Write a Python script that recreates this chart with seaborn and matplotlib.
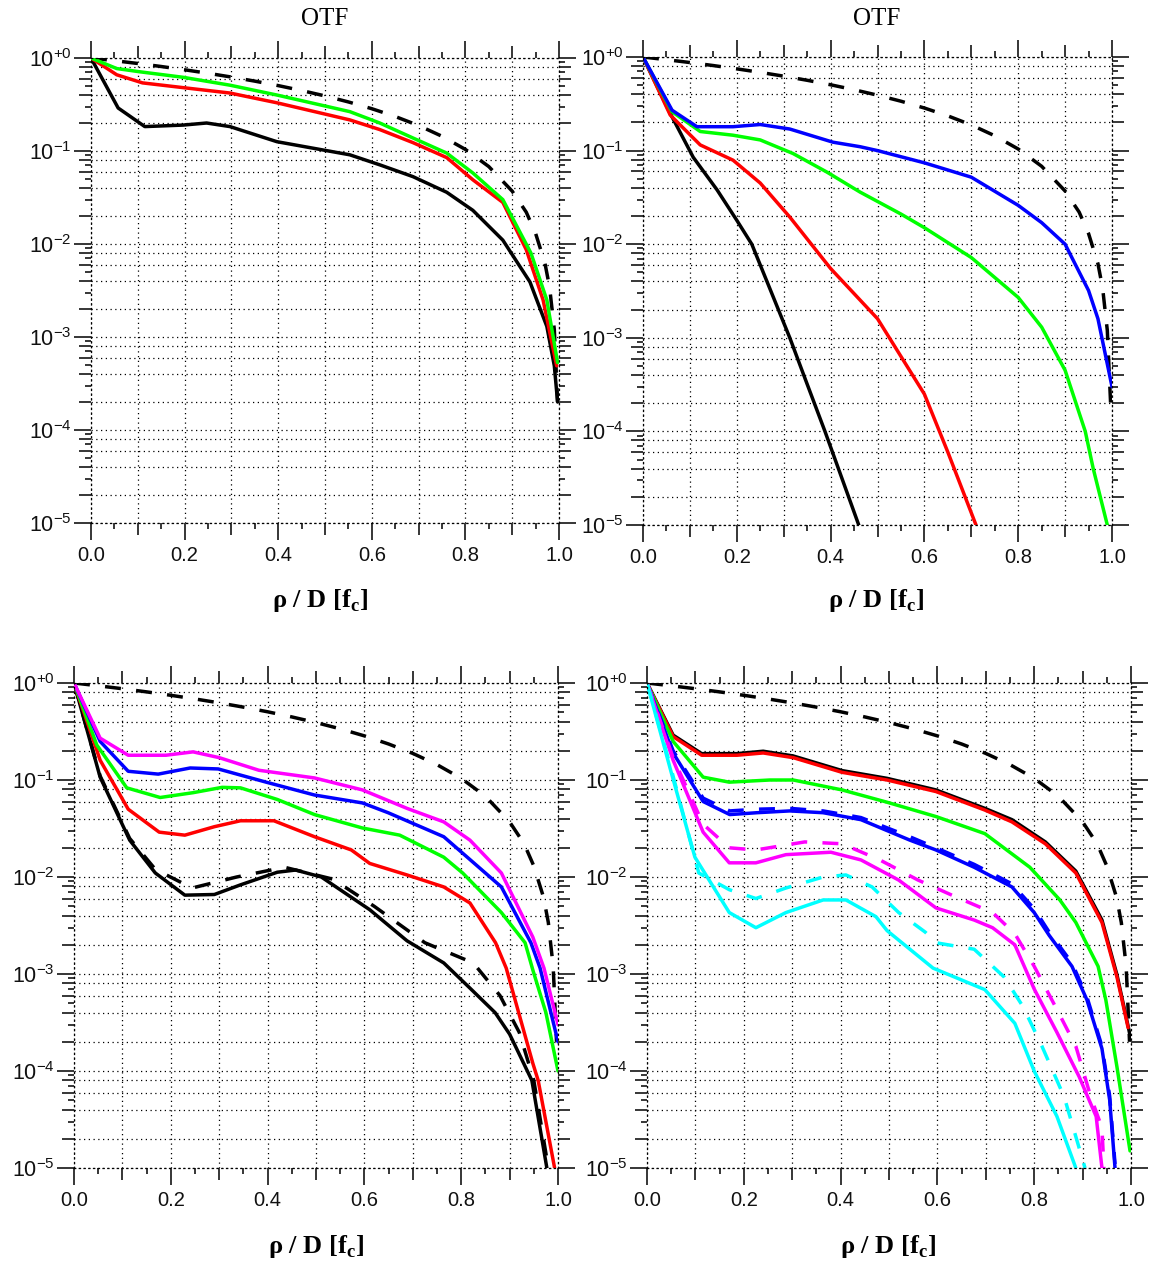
import numpy as np
import matplotlib
matplotlib.use("Agg")
import matplotlib.pyplot as plt
import seaborn as sns
from matplotlib.ticker import FixedLocator, NullFormatter, NullLocator

sns.set_theme(style="white")
plt.rcParams["font.family"] = ["Liberation Sans", "DejaVu Sans"]

# ---------------------------------------------------------------- data
# diffraction-limited OTF (dashed black, every panel)
otf_x = [0.0, 0.05, 0.1, 0.15, 0.2, 0.25, 0.3, 0.35, 0.4, 0.45, 0.5, 0.55, 0.6,
         0.65, 0.7, 0.75, 0.8, 0.85, 0.9, 0.93, 0.95, 0.97, 0.98, 0.99, 0.997]
otf_y = [1.0, 0.936, 0.873, 0.810, 0.747, 0.685, 0.624, 0.564, 0.505, 0.447, 0.391,
         0.337, 0.285, 0.235, 0.188, 0.144, 0.104, 0.068, 0.037, 0.022, 0.013,
         0.0062, 0.0034, 0.0012, 0.0002]

# top-left panel
tl_black_x = [0, 0.058, 0.115, 0.197, 0.247, 0.297, 0.397, 0.553, 0.617, 0.688,
              0.76, 0.816, 0.88, 0.938, 0.974, 0.99, 0.997]
tl_black_y = [1, 0.29, 0.183, 0.19, 0.20, 0.183, 0.126, 0.091, 0.071, 0.053,
              0.036, 0.023, 0.011, 0.0039, 0.0013, 0.00049, 0.0002]
tl_red_x = [0, 0.055, 0.11, 0.197, 0.297, 0.397, 0.553, 0.617, 0.688, 0.76, 0.816,
            0.88, 0.93, 0.966, 0.995]
tl_red_y = [1, 0.66, 0.54, 0.48, 0.42, 0.33, 0.216, 0.17, 0.123, 0.085, 0.049,
            0.028, 0.0087, 0.0025, 0.00049]
tl_green_x = [0, 0.055, 0.105, 0.197, 0.297, 0.397, 0.553, 0.617, 0.688, 0.76,
              0.816, 0.88, 0.94, 0.974, 0.997]
tl_green_y = [1, 0.77, 0.71, 0.62, 0.51, 0.40, 0.265, 0.20, 0.138, 0.095, 0.058,
              0.030, 0.008, 0.0025, 0.00053]

# top-right panel
tr_black_x = [0, 0.058, 0.107, 0.158, 0.2, 0.232, 0.27, 0.313, 0.35, 0.388, 0.42, 0.46]
tr_black_y = [1, 0.25, 0.085, 0.038, 0.018, 0.01, 0.0034, 0.001, 0.00032, 1e-4,
              3.6e-5, 1e-5]
tr_red_x = [0, 0.058, 0.122, 0.192, 0.25, 0.313, 0.4, 0.5, 0.6, 0.65, 0.71]
tr_red_y = [1, 0.24, 0.115, 0.079, 0.045, 0.0195, 0.0055, 0.0016, 2.5e-4, 6e-5, 1e-5]
tr_green_x = [0, 0.062, 0.122, 0.192, 0.25, 0.32, 0.392, 0.463, 0.55, 0.6, 0.7,
              0.8, 0.85, 0.9, 0.943, 0.96, 0.99]
tr_green_y = [1, 0.26, 0.16, 0.146, 0.13, 0.093, 0.059, 0.036, 0.021, 0.015, 0.0072,
              0.0027, 0.0013, 4.5e-4, 1e-4, 4e-5, 1e-5]
tr_blue_x = [0, 0.062, 0.115, 0.192, 0.25, 0.313, 0.405, 0.463, 0.5, 0.6, 0.7, 0.8,
             0.85, 0.9, 0.95, 0.97, 1.0]
tr_blue_y = [1, 0.27, 0.18, 0.18, 0.19, 0.17, 0.123, 0.11, 0.10, 0.074, 0.052,
             0.026, 0.017, 0.01, 0.0032, 0.0016, 3e-4]

# bottom-left panel
bl_black_x = [0, 0.054, 0.115, 0.168, 0.229, 0.29, 0.344, 0.42, 0.458, 0.511, 0.611,
              0.688, 0.764, 0.82, 0.87, 0.9, 0.946, 0.977]
bl_black_y = [1, 0.107, 0.024, 0.011, 0.0065, 0.0066, 0.0083, 0.0112, 0.0118, 0.010,
              0.0046, 0.0022, 0.0013, 7e-4, 4e-4, 2.4e-4, 8e-5, 1e-5]
bl_blackd_x = [0, 0.054, 0.115, 0.168, 0.244, 0.336, 0.435, 0.535, 0.62, 0.725,
               0.825, 0.88, 0.92, 0.95, 0.98]
bl_blackd_y = [1, 0.11, 0.025, 0.012, 0.0077, 0.010, 0.0126, 0.0095, 0.0050, 0.0021,
               0.0013, 6e-4, 2.5e-4, 8e-5, 1e-5]
bl_red_x = [0, 0.054, 0.112, 0.176, 0.229, 0.29, 0.344, 0.413, 0.497, 0.573, 0.611,
            0.688, 0.764, 0.818, 0.871, 0.893, 0.948, 0.959, 0.993]
bl_red_y = [1, 0.16, 0.05, 0.029, 0.027, 0.033, 0.038, 0.038, 0.026, 0.019, 0.0138,
            0.0105, 0.0079, 0.0054, 0.0021, 0.00115, 1.2e-4, 8e-5, 1e-5]
bl_green_x = [0, 0.047, 0.109, 0.178, 0.246, 0.306, 0.344, 0.42, 0.497, 0.596, 0.673,
              0.764, 0.803, 0.883, 0.932, 0.948, 0.975, 1.0]
bl_green_y = [1, 0.23, 0.083, 0.066, 0.074, 0.084, 0.083, 0.063, 0.044, 0.032, 0.027,
              0.016, 0.011, 0.0043, 0.0021, 0.0011, 4e-4, 1e-4]
bl_blue_x = [0, 0.054, 0.112, 0.174, 0.24, 0.298, 0.397, 0.497, 0.596, 0.649, 0.764,
             0.883, 0.944, 0.963, 1.0]
bl_blue_y = [1, 0.25, 0.123, 0.115, 0.133, 0.13, 0.095, 0.07, 0.058, 0.046, 0.026,
             0.0079, 0.0021, 0.00115, 2e-4]
bl_magenta_x = [0, 0.054, 0.112, 0.19, 0.246, 0.30, 0.382, 0.497, 0.596, 0.688, 0.764,
                0.818, 0.883, 0.948, 0.971, 1.0]
bl_magenta_y = [1, 0.27, 0.18, 0.18, 0.195, 0.17, 0.126, 0.105, 0.079, 0.051, 0.037,
                0.024, 0.011, 0.0024, 0.00115, 3e-4]

# bottom-right panel
br_red_x = [0, 0.054, 0.113, 0.186, 0.24, 0.302, 0.403, 0.496, 0.597, 0.698, 0.754,
            0.823, 0.886, 0.94, 0.971, 0.994]
br_red_y = [1, 0.28, 0.18, 0.18, 0.19, 0.17, 0.12, 0.10, 0.076, 0.049, 0.037, 0.022,
            0.011, 0.0034, 9.3e-4, 2.8e-4]
br_black_x = [0, 0.054, 0.113, 0.186, 0.24, 0.302, 0.403, 0.496, 0.597, 0.698, 0.754,
              0.823, 0.886, 0.94, 0.971, 0.994, 1.0]
br_black_y = [1, 0.29, 0.187, 0.187, 0.198, 0.177, 0.125, 0.104, 0.079, 0.051, 0.039,
              0.023, 0.0115, 0.0036, 9.8e-4, 2.9e-4, 2.1e-4]
br_green_x = [0, 0.054, 0.116, 0.17, 0.254, 0.302, 0.403, 0.496, 0.597, 0.698, 0.791,
              0.853, 0.886, 0.932, 0.948, 0.971, 0.998]
br_green_y = [1, 0.25, 0.107, 0.095, 0.10, 0.10, 0.079, 0.059, 0.042, 0.028, 0.0126,
              0.0058, 0.0034, 0.0012, 5.4e-4, 1.1e-4, 1.5e-5]
br_blue_x = [0, 0.054, 0.116, 0.171, 0.227, 0.295, 0.364, 0.442, 0.543, 0.597, 0.676,
             0.754, 0.80, 0.831, 0.878, 0.909, 0.94, 0.956, 0.967]
br_blue_y = [1, 0.19, 0.06, 0.044, 0.046, 0.048, 0.046, 0.039, 0.024, 0.019, 0.0126,
             0.0079, 0.0043, 0.0025, 0.0012, 5.4e-4, 1.7e-4, 5e-5, 1e-5]
br_blued_y = [1, 0.20, 0.065, 0.048, 0.050, 0.051, 0.048, 0.041, 0.026, 0.020, 0.0135,
              0.0085, 0.0047, 0.0027, 0.0013, 5.8e-4, 1.8e-4, 5.5e-5, 1.1e-5]
br_magenta_x = [0, 0.054, 0.116, 0.17, 0.225, 0.287, 0.38, 0.442, 0.52, 0.597, 0.676,
                0.714, 0.76, 0.80, 0.847, 0.893, 0.928, 0.94]
br_magenta_y = [1, 0.16, 0.029, 0.014, 0.014, 0.017, 0.018, 0.015, 0.0093, 0.0048,
                0.0036, 0.003, 0.002, 7e-4, 2.5e-4, 8.7e-5, 3.4e-5, 1e-5]
br_magentad_x = [0, 0.054, 0.116, 0.17, 0.225, 0.326, 0.403, 0.481, 0.56, 0.636, 0.714,
                 0.76, 0.80, 0.847, 0.886, 0.917, 0.94, 0.944]
br_magentad_y = [1, 0.17, 0.035, 0.020, 0.019, 0.023, 0.022, 0.015, 0.0093, 0.0063,
                 0.0043, 0.0026, 0.0012, 4.3e-4, 1.8e-4, 5.4e-5, 2.6e-5, 1e-5]
br_cyan_x = [0, 0.05, 0.099, 0.17, 0.225, 0.287, 0.364, 0.411, 0.473, 0.496, 0.591,
             0.698, 0.76, 0.80, 0.847, 0.886]
br_cyan_y = [1, 0.12, 0.016, 0.0043, 0.003, 0.0043, 0.0058, 0.0058, 0.0039, 0.0028,
             0.00115, 6.9e-4, 3.1e-4, 1e-4, 3.4e-5, 1e-5]
br_cyand_x = [0, 0.05, 0.107, 0.17, 0.225, 0.287, 0.364, 0.411, 0.465, 0.52, 0.575,
              0.597, 0.676, 0.738, 0.777, 0.816, 0.862, 0.905]
br_cyand_y = [1, 0.13, 0.011, 0.0074, 0.006, 0.0077, 0.010, 0.0105, 0.0079, 0.0043,
              0.0027, 0.0021, 0.0018, 9.3e-4, 4.6e-4, 1.8e-4, 5.4e-5, 1e-5]

x_ticks = [0.0, 0.2, 0.4, 0.6, 0.8, 1.0]
x_tick_labels = ["0.0", "0.2", "0.4", "0.6", "0.8", "1.0"]
y_ticks = [1e-5, 1e-4, 1e-3, 1e-2, 1e-1, 1e0]
y_tick_labels = [r"$\mathregular{10^{-5}}$", r"$\mathregular{10^{-4}}$",
                 r"$\mathregular{10^{-3}}$", r"$\mathregular{10^{-2}}$",
                 r"$\mathregular{10^{-1}}$", r"$\mathregular{10^{+0}}$"]
title_text = "OTF"
xlabel_text = r"ρ / D [f$_{\mathregular{c}}$]"

# ---------------------------------------------------------------- figure
W, H = 1149, 1264
fig = plt.figure(figsize=(W / 100, H / 100), dpi=100)
fig.patch.set_facecolor("white")

DOT = (0, (1.0, 2.8))
DASH = (0, (4.6, 4.4))
TICK_W = 1.1


def panel(left, right, top, bottom):
    ax = fig.add_axes([left / W, 1 - bottom / H, (right - left) / W, (bottom - top) / H])
    ax.set_yscale("log")
    ax.set_xlim(0, 1)
    ax.set_ylim(1e-5, 1)
    ax.set_facecolor("white")

    ax.set_xticks(x_ticks, labels=x_tick_labels)
    ax.xaxis.set_minor_locator(FixedLocator([0.1, 0.3, 0.5, 0.7, 0.9]))
    ax.set_yticks(y_ticks, labels=y_tick_labels)
    ax.yaxis.set_minor_locator(FixedLocator(
        [m * 10.0 ** e for e in range(-5, 0) for m in (2, 4, 6, 8)]))
    ax.yaxis.set_minor_formatter(NullFormatter())

    ax.tick_params(which="both", direction="out", color="black", width=TICK_W,
                   top=True, right=True, bottom=True, left=True)
    ax.tick_params(which="major", length=12.5)
    ax.tick_params(which="minor", length=8.5)
    ax.tick_params(axis="x", labelsize=14.5, pad=4, labelcolor="#111111")
    ax.tick_params(axis="y", labelsize=15.5, pad=1.5, labelcolor="#111111")

    ax.grid(which="both", color="black", linestyle=DOT, linewidth=0.9)
    for sp in ax.spines.values():
        sp.set_visible(True)
        sp.set_color("black")
        sp.set_linestyle(DOT)
        sp.set_linewidth(0.9)

    # short intermediate ticks on all four sides
    for side in ("bottom", "top"):
        sec = ax.secondary_xaxis(side)
        sec.set_xticks([0.05, 0.15, 0.25, 0.35, 0.45, 0.55, 0.65, 0.75, 0.85, 0.95])
        sec.xaxis.set_major_formatter(NullFormatter())
        sec.xaxis.set_minor_locator(NullLocator())
        sec.tick_params(direction="out", length=4.5, width=TICK_W, color="black")
        for sp in sec.spines.values():
            sp.set_visible(False)
    for side in ("left", "right"):
        sec = ax.secondary_yaxis(side)
        sec.set_yticks([m * 10.0 ** e for e in range(-5, 0) for m in (3, 5, 7, 9)])
        sec.yaxis.set_major_formatter(NullFormatter())
        sec.yaxis.set_minor_locator(NullLocator())
        sec.tick_params(direction="out", length=4.5, width=TICK_W, color="black")
        for sp in sec.spines.values():
            sp.set_visible(False)
    return ax


def curve(ax, x, y, color, dashed=False, lw=2.5):
    kw = dict(x=np.asarray(x, float), y=np.asarray(y, float), ax=ax, color=color,
              linewidth=lw, sort=False, estimator=None)
    if dashed:
        kw["linestyle"] = DASH
    sns.lineplot(**kw)


BLACK, RED, GREEN, BLUE = "#000000", "#ff0000", "#00ff00", "#0000ff"
MAGENTA, CYAN = "#ff00ff", "#00ffff"

ax_tl = panel(91, 559, 58, 523)
ax_tr = panel(643, 1112, 57, 525)
ax_bl = panel(74, 558, 683, 1168)
ax_br = panel(647, 1131, 683, 1168)

# top-left
curve(ax_tl, otf_x, otf_y, BLACK, dashed=True)
curve(ax_tl, tl_black_x, tl_black_y, BLACK)
curve(ax_tl, tl_red_x, tl_red_y, RED)
curve(ax_tl, tl_green_x, tl_green_y, GREEN)

# top-right
curve(ax_tr, otf_x, otf_y, BLACK, dashed=True)
curve(ax_tr, tr_black_x, tr_black_y, BLACK)
curve(ax_tr, tr_red_x, tr_red_y, RED)
curve(ax_tr, tr_green_x, tr_green_y, GREEN)
curve(ax_tr, tr_blue_x, tr_blue_y, BLUE)

# bottom-left
curve(ax_bl, otf_x, otf_y, BLACK, dashed=True)
curve(ax_bl, bl_black_x, bl_black_y, BLACK)
curve(ax_bl, bl_blackd_x, bl_blackd_y, BLACK, dashed=True)
curve(ax_bl, bl_red_x, bl_red_y, RED)
curve(ax_bl, bl_green_x, bl_green_y, GREEN)
curve(ax_bl, bl_blue_x, bl_blue_y, BLUE)
curve(ax_bl, bl_magenta_x, bl_magenta_y, MAGENTA)

# bottom-right
curve(ax_br, otf_x, otf_y, BLACK, dashed=True)
curve(ax_br, br_black_x, br_black_y, BLACK)
curve(ax_br, br_red_x, br_red_y, RED)
curve(ax_br, br_green_x, br_green_y, GREEN)
curve(ax_br, br_blue_x, br_blue_y, BLUE)
curve(ax_br, br_blue_x, br_blued_y, BLUE, dashed=True)
curve(ax_br, br_magenta_x, br_magenta_y, MAGENTA)
curve(ax_br, br_magentad_x, br_magentad_y, MAGENTA, dashed=True)
curve(ax_br, br_cyan_x, br_cyan_y, CYAN)
curve(ax_br, br_cyand_x, br_cyand_y, CYAN, dashed=True)

for ax in (ax_tl, ax_tr, ax_bl, ax_br):
    leg = ax.get_legend()
    if leg is not None:
        leg.remove()
    ax.set_xlabel("")
    ax.set_ylabel("")

serif = ["Liberation Serif", "DejaVu Serif"]
for cx in (325, 877):
    fig.text(cx / W, 1 - 19 / H, title_text, ha="center", va="center",
             fontsize=18, family=serif, color="black")
for cx, cy in ((320, 601), (876, 601), (316, 1246), (888, 1246)):
    fig.text(cx / W, 1 - cy / H, xlabel_text, ha="center", va="center",
             fontsize=19, family=serif, weight="bold", color="black")

fig.savefig("out.png", dpi=100, facecolor="white")
